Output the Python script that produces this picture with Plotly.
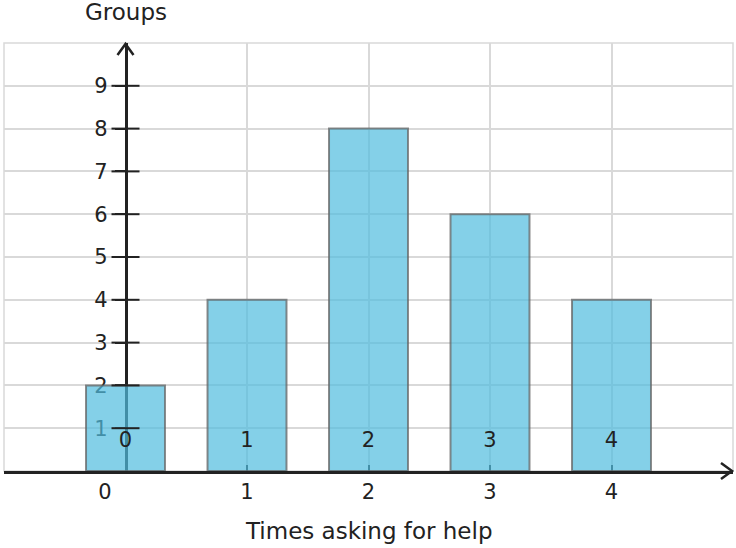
import plotly.graph_objects as go

categories = [0, 1, 2, 3, 4]
groups = [2, 4, 8, 6, 4]
bar_labels = ["0", "1", "2", "3", "4"]
x_tick_vals = [-0.17, 1, 2, 3, 4]
x_tick_text = ["0", "1", "2", "3", "4"]
y_tick_vals = [1, 2, 3, 4, 5, 6, 7, 8, 9]
x_title = "Times asking for help"
y_title = "Groups"

FONT = "DejaVu Sans"
INK = "#222222"
GRID = "#d9d9d9"
TICK_SIZE = 21
TITLE_SIZE = 23

fig = go.Figure()
fig.add_trace(go.Bar(
    x=categories, y=groups, width=0.65,
    marker=dict(color="rgba(80,188,222,0.7)",
                line=dict(color="rgba(100,100,100,0.75)", width=2)),
    hoverinfo="skip", showlegend=False,
))
# crossing tick marks on the y axis (at x = 0)
fig.add_trace(go.Scatter(
    x=[0] * len(y_tick_vals), y=y_tick_vals, mode="markers",
    marker=dict(symbol="line-ew", size=20, color=INK,
                line=dict(color=INK, width=2)),
    hoverinfo="skip", showlegend=False, cliponaxis=False,
))
fig.add_trace(go.Scatter(
    x=categories, y=[0.68] * len(categories), mode="text", text=bar_labels,
    textfont=dict(family=FONT, size=TICK_SIZE, color=INK),
    hoverinfo="skip", showlegend=False,
))
# invisible helper trace so the label axis is drawn
fig.add_trace(go.Scatter(x=[0], y=[0], xaxis="x2", yaxis="y", mode="markers",
                         marker=dict(opacity=0), hoverinfo="skip", showlegend=False))

fig.update_layout(
    width=736, height=548,
    margin=dict(l=4, r=3, t=43, b=77),
    plot_bgcolor="white", paper_bgcolor="white",
    font=dict(family=FONT, color=INK, size=TICK_SIZE),
    xaxis=dict(range=[-1, 5], tickvals=[-1, 0, 1, 2, 3, 4, 5], showticklabels=False,
               showgrid=True, gridcolor=GRID, gridwidth=2, zeroline=False,
               showline=True, linecolor=INK, linewidth=2.5,
               ticks="inside", ticklen=6, tickwidth=2, tickcolor=INK,
               layer="below traces", fixedrange=True),
    xaxis2=dict(range=[-1, 5], overlaying="x", anchor="y", side="bottom",
                tickvals=x_tick_vals, ticktext=x_tick_text, ticks="", showgrid=False,
                zeroline=False, showline=False, ticklabelstandoff=6,
                tickfont=dict(family=FONT, size=TICK_SIZE, color=INK), fixedrange=True),
    yaxis=dict(range=[0, 10], tickvals=y_tick_vals, anchor="free", position=1/6,
               showgrid=True, gridcolor=GRID, gridwidth=2, zeroline=False,
               showline=True, linecolor=INK, linewidth=2.5,
               ticks="outside", ticklen=10, tickwidth=2, tickcolor=INK,
               ticklabelstandoff=3,
               tickfont=dict(family=FONT, size=TICK_SIZE, color=INK),
               layer="below traces", fixedrange=True),
    shapes=[
        dict(type="rect", xref="paper", yref="paper", x0=0, x1=1, y0=0, y1=1,
             line=dict(color=GRID, width=1.5), layer="below"),
        dict(type="path", xref="paper", yref="paper", xsizemode="pixel", ysizemode="pixel",
             xanchor=1, yanchor=0, path="M -12 8 L -1 0 L -12 -8",
             line=dict(color=INK, width=2.5)),
        dict(type="path", xref="paper", yref="paper", xsizemode="pixel", ysizemode="pixel",
             xanchor=1/6, yanchor=1, path="M -8 -12 L 0 -1 L 8 -12",
             line=dict(color=INK, width=2.5)),
    ],
    annotations=[
        dict(text=y_title, xref="x", yref="paper", x=0, y=1, yshift=31,
             showarrow=False, yanchor="middle", xanchor="center",
             font=dict(family=FONT, size=TITLE_SIZE, color=INK)),
        dict(text=x_title, xref="paper", yref="paper", x=0.5, y=0, yshift=-60,
             showarrow=False, yanchor="middle", xanchor="center",
             font=dict(family=FONT, size=TITLE_SIZE, color=INK)),
    ],
)

fig.write_html("out.html")
